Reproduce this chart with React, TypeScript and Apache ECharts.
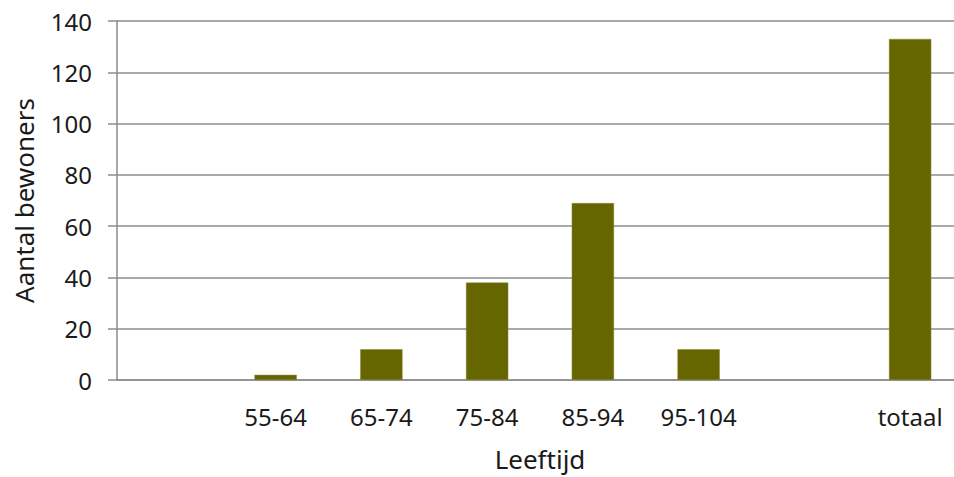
import React, { useEffect, useRef } from "react";
import * as echarts from "echarts";

const categories = ["", "55-64", "65-74", "75-84", "85-94", "95-104", "", "totaal"];
const residents = [null, 2, 12, 38, 69, 12, null, 133];
const yTicks = [0, 20, 40, 60, 80, 100, 120, 140];

const FONT = "'Noto Sans', sans-serif";
const TEXT = "#1a1a1a";
const GRID = "#8c8c8c";

export default function App() {
  const ref = useRef<HTMLDivElement>(null);
  useEffect(() => {
    if (!ref.current) return;
    const chart = echarts.init(ref.current, undefined, { renderer: "svg" });
    chart.setOption({
      animation: false,
      backgroundColor: "#ffffff",
      grid: { left: 117, top: 21, right: 0, bottom: 96 },
      xAxis: {
        type: "category",
        data: categories,
        name: "Leeftijd",
        nameLocation: "middle",
        nameGap: 66,
        nameTextStyle: { fontFamily: FONT, fontSize: 26, color: TEXT },
        axisLine: { show: true, lineStyle: { color: GRID, width: 1.5 } },
        axisTick: { show: false },
        axisLabel: {
          interval: 0,
          margin: 24,
          fontFamily: FONT,
          fontSize: 24,
          color: TEXT,
        },
        splitLine: { show: false },
      },
      yAxis: {
        type: "value",
        min: yTicks[0],
        max: yTicks[yTicks.length - 1],
        interval: yTicks[1] - yTicks[0],
        name: "Aantal bewoners",
        nameLocation: "middle",
        nameGap: 80,
        nameTextStyle: { fontFamily: FONT, fontSize: 26, color: TEXT },
        axisLine: { show: true, lineStyle: { color: GRID, width: 1.5 } },
        axisTick: { show: true, length: 9, lineStyle: { color: GRID, width: 1.5 } },
        axisLabel: {
          margin: 25,
          fontFamily: FONT,
          fontSize: 24,
          color: TEXT,
        },
        splitLine: { show: true, lineStyle: { color: GRID, width: 1.5 } },
      },
      series: [
        {
          type: "bar",
          data: residents,
          barWidth: "40%",
          itemStyle: { color: "#666600", borderColor: "#8a8a3a", borderWidth: 0.5 },
        },
      ],
    });
    return () => chart.dispose();
  }, []);
  return (
    <div
      style={{ position: "fixed", left: 0, top: 0, width: 954, height: 477, overflow: "hidden", background: "#fff" }}
    >
      <div ref={ref} style={{ width: 963, height: 477 }} />
    </div>
  );
}
